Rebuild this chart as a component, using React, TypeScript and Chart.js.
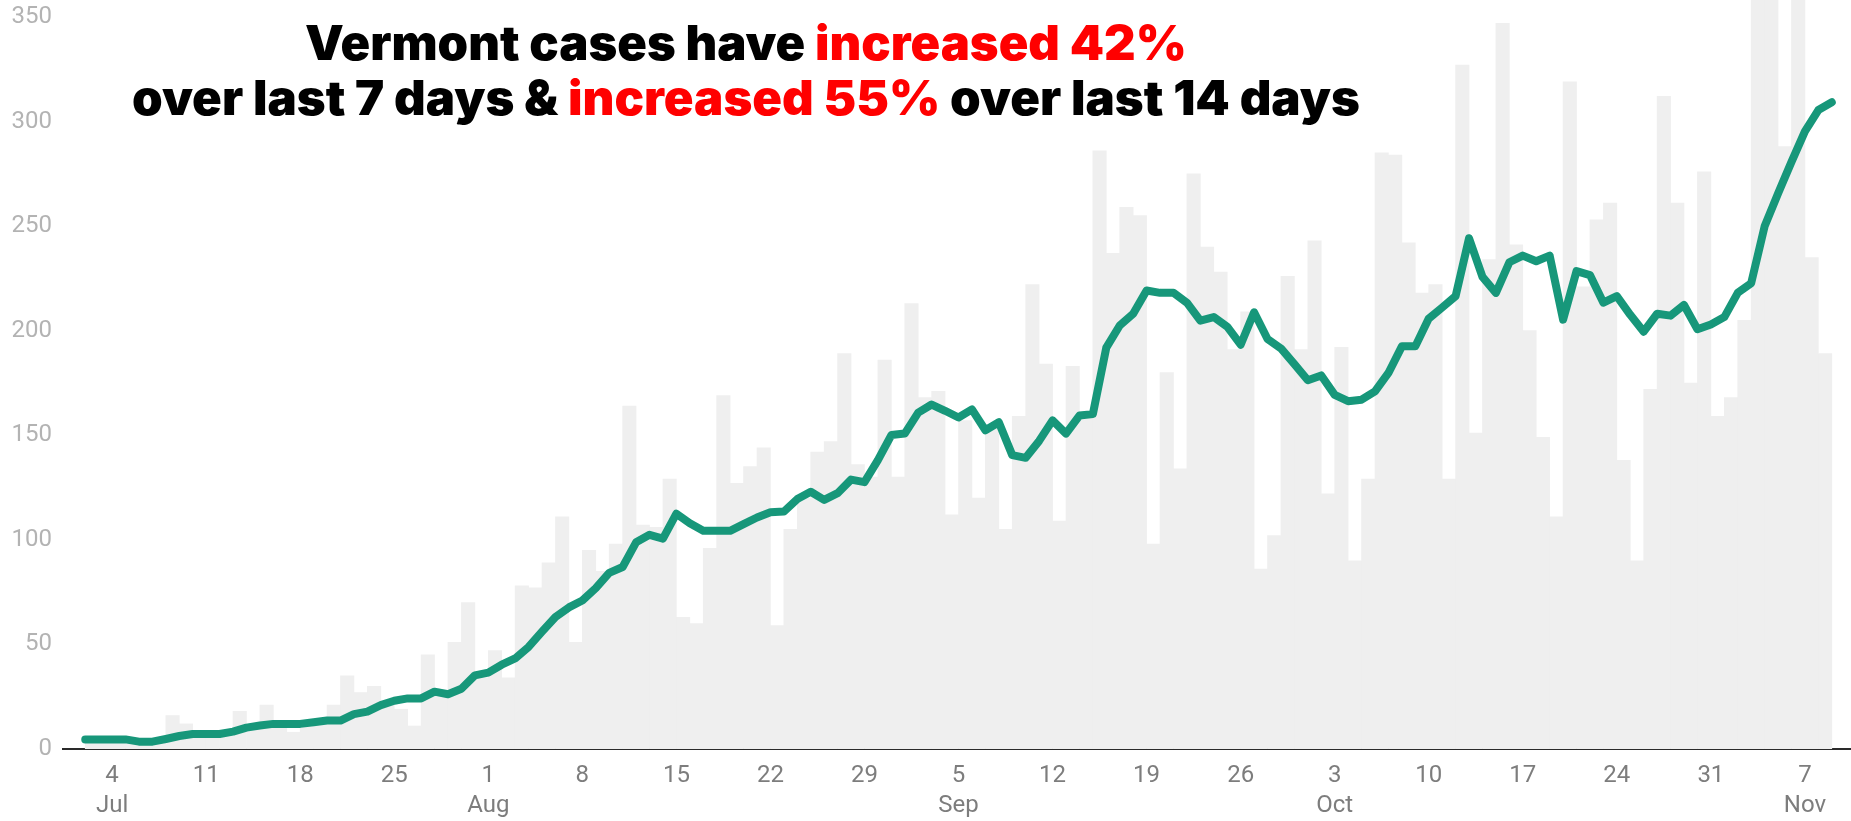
import React, { useEffect, useLayoutEffect, useRef } from 'react';
import { Chart, registerables } from 'chart.js';

Chart.register(...registerables);

// ---- data -------------------------------------------------------------
const START_DATE = '2020-07-02';

// daily new cases, Jul 2 .. Nov 9 (no visible bar on the first day)
const dailyCases: (number | null)[] = [
  null, 5, 4, 5, 3, 3, 5, 16, 12, 7,
  7, 8, 18, 10, 21, 11, 8, 12, 13, 21,
  35, 27, 30, 23, 19, 11, 45, 26, 51, 70,
  34, 47, 34, 78, 77, 89, 111, 51, 95, 85,
  98, 164, 107, 106, 129, 63, 60, 96, 169, 127,
  135, 144, 59, 105, 120, 142, 147, 189, 136, 130,
  186, 130, 213, 168, 171, 112, 157, 120, 155, 105,
  159, 222, 184, 109, 183, 159, 286, 237, 259, 255,
  98, 180, 134, 275, 240, 228, 191, 209, 86, 102,
  226, 191, 243, 122, 192, 90, 129, 285, 284, 242,
  218, 222, 129, 327, 151, 234, 347, 241, 200, 149,
  111, 319, 221, 253, 261, 138, 90, 172, 312, 261,
  175, 276, 159, 168, 205, 480, 372, 288, 380, 235,
  189,
];

// 7-day average, Jul 2 .. Nov 9
const sevenDayAverage: number[] = [
  4.6, 4.6, 4.6, 4.6, 3.5, 3.5, 4.8, 6.2, 7.2, 7.2,
  7.2, 8.3, 10.2, 11.2, 12, 12, 12, 12.8, 13.6, 13.6,
  16.7, 17.9, 21, 23.1, 24.2, 24.2, 27.4, 26.2, 28.8, 35.2,
  36.5, 40.3, 43.3, 48.8, 56.1, 63.1, 67.7, 71, 76.9, 84.2,
  87, 98.8, 102.4, 100.6, 112.5, 107.9, 104.3, 104.3, 104.3, 107.5,
  110.7, 113.2, 113.5, 119.5, 123, 119.1, 122.3, 128.8, 127.6, 138.1,
  150.1, 150.8, 160.8, 164.7, 161.7, 158.5, 162.4, 152.4, 156.2, 140.5,
  139.2, 147.3, 157.1, 150.8, 159.4, 160.1, 191.9, 202.5, 208.1, 219.2,
  218.1, 218.1, 213.4, 204.8, 206.5, 201.9, 193.3, 208.8, 196, 191.5,
  184, 176.3, 178.6, 169.3, 166.3, 167, 171, 179.8, 192.5, 192.5,
  205.8, 211.1, 216.5, 244.2, 225.7, 218.1, 232.7, 235.9, 233.2, 235.9,
  205.3, 228.5, 226.6, 213.4, 216.5, 207.6, 199.5, 208.1, 207.2, 212.3,
  200.7, 203, 206.5, 218.1, 222.7, 249.9, 265.6, 280.7, 295.3, 305.5,
  309.2,
];

const tickDates: string[] = [
  '2020-07-04', '2020-07-11', '2020-07-18', '2020-07-25',
  '2020-08-01', '2020-08-08', '2020-08-15', '2020-08-22', '2020-08-29',
  '2020-09-05', '2020-09-12', '2020-09-19', '2020-09-26',
  '2020-10-03', '2020-10-10', '2020-10-17', '2020-10-24', '2020-10-31',
  '2020-11-07',
];
const tickDayLabels: string[] = [
  '4', '11', '18', '25', '1', '8', '15', '22', '29', '5', '12', '19', '26', '3', '10', '17', '24', '31', '7',
];
const tickMonthLabels: string[] = [
  'Jul', '', '', '', 'Aug', '', '', '', '', 'Sep', '', '', '', 'Oct', '', '', '', '', 'Nov',
];
const yTickValues: number[] = [0, 50, 100, 150, 200, 250, 300, 350];

const titleLine1: [string, boolean][] = [
  ['Vermont cases have ', false],
  ['increased 42%', true],
];
const titleLine2: [string, boolean][] = [
  ['over last 7 days & ', false],
  ['increased 55%', true],
  [' over last 14 days', false],
];

// ---- layout / style ----------------------------------------------------
const W = 1851;
const H = 821;
const X_MIN = -1.655;
const X_MAX = 131.43;
const Y_MAX = 358.1;
const LINE_COLOR = '#17977a';
const BAR_COLOR = '#efefef';

const dayIndex = (d: string) =>
  Math.round((Date.parse(d) - Date.parse(START_DATE)) / 86400000);

export default function App() {
  const canvasRef = useRef<HTMLCanvasElement | null>(null);
  const l1Ref = useRef<HTMLDivElement | null>(null);
  const l2Ref = useRef<HTMLDivElement | null>(null);

  useEffect(() => {
    const canvas = canvasRef.current;
    if (!canvas) return;
    const tickValues = tickDates.map(dayIndex);
    const chart = new Chart(canvas, {
      type: 'bar',
      data: {
        datasets: [
          {
            type: 'line',
            data: sevenDayAverage.map((y, i) => ({ x: i, y })),
            borderColor: LINE_COLOR,
            borderWidth: 8,
            pointRadius: 0,
            pointHoverRadius: 0,
            tension: 0,
            borderCapStyle: 'round',
            borderJoinStyle: 'round',
            order: 0,
          } as any,
          {
            type: 'bar',
            data: dailyCases.map((y, i) => ({ x: i - 0.5, y })),
            backgroundColor: BAR_COLOR,
            borderWidth: 0,
            barPercentage: 1,
            categoryPercentage: 1,
            order: 1,
          } as any,
        ],
      },
      options: {
        animation: false,
        responsive: false,
        devicePixelRatio: 1,
        layout: { padding: 0 },
        plugins: { legend: { display: false }, tooltip: { enabled: false } },
        scales: {
          x: {
            type: 'linear',
            min: X_MIN,
            max: X_MAX,
            offset: false,
            grid: { display: false, drawTicks: false },
            border: { display: true, color: '#2a2a2a', width: 2 },
            afterBuildTicks: (s: any) => {
              s.ticks = tickValues.map((v) => ({ value: v }));
            },
            afterFit: (s: any) => {
              s.height = 72;
              s.paddingLeft = 0;
              s.paddingRight = 0;
            },
            ticks: {
              autoSkip: false,
              maxRotation: 0,
              minRotation: 0,
              padding: 12,
              color: '#7d7d7d',
              font: { family: 'Roboto', size: 24, lineHeight: 1.25 },
              callback: (_v: any, i: number) =>
                tickMonthLabels[i] ? [tickDayLabels[i], tickMonthLabels[i]] : tickDayLabels[i],
            },
          },
          y: {
            type: 'linear',
            min: 0,
            max: Y_MAX,
            grid: { display: false, drawTicks: false },
            border: { display: false },
            afterBuildTicks: (s: any) => {
              s.ticks = yTickValues.map((v) => ({ value: v }));
            },
            afterFit: (s: any) => {
              s.width = 63;
              s.paddingTop = 0;
              s.paddingBottom = 0;
            },
            ticks: {
              padding: 11,
              color: '#b3b3b3',
              font: { family: 'Roboto', size: 24 },
            },
          },
        },
      } as any,
    });
    return () => chart.destroy();
  }, []);

  useLayoutEffect(() => {
    const fit = () => {
      const pairs: [HTMLDivElement | null, number][] = [
        [l1Ref.current, 882],
        [l2Ref.current, 1228],
      ];
      pairs.forEach(([el, target]) => {
        if (!el) return;
        const w = el.offsetWidth;
        if (w > 0) el.style.transform = `scaleX(${target / w})`;
      });
    };
    fit();
    if ((document as any).fonts && (document as any).fonts.ready) {
      (document as any).fonts.ready.then(fit);
    }
  }, []);

  const titleStyle = (left: number, top: number): React.CSSProperties => ({
    position: 'absolute',
    left,
    top,
    transformOrigin: '0 0',
    whiteSpace: 'nowrap',
    fontFamily: 'Inter, "Open Sans", sans-serif',
    fontWeight: 900,
    fontSize: 48,
    lineHeight: '55px',
    color: '#000',
  });

  const renderParts = (parts: [string, boolean][]) =>
    parts.map(([t, red], i) => (
      <span key={i} style={{ color: red ? '#ff0000' : '#000000' }}>
        {t}
      </span>
    ));

  return (
    <div style={{ position: 'absolute', left: 0, top: 0, width: W, height: H, background: '#ffffff', overflow: 'hidden' }}>
      <canvas ref={canvasRef} width={W} height={H} style={{ display: 'block', width: W, height: H }} />
      <div ref={l1Ref} style={titleStyle(745.5 - 882 / 2, 15)}>
        {renderParts(titleLine1)}
      </div>
      <div ref={l2Ref} style={titleStyle(746 - 1228 / 2, 70)}>
        {renderParts(titleLine2)}
      </div>
    </div>
  );
}
